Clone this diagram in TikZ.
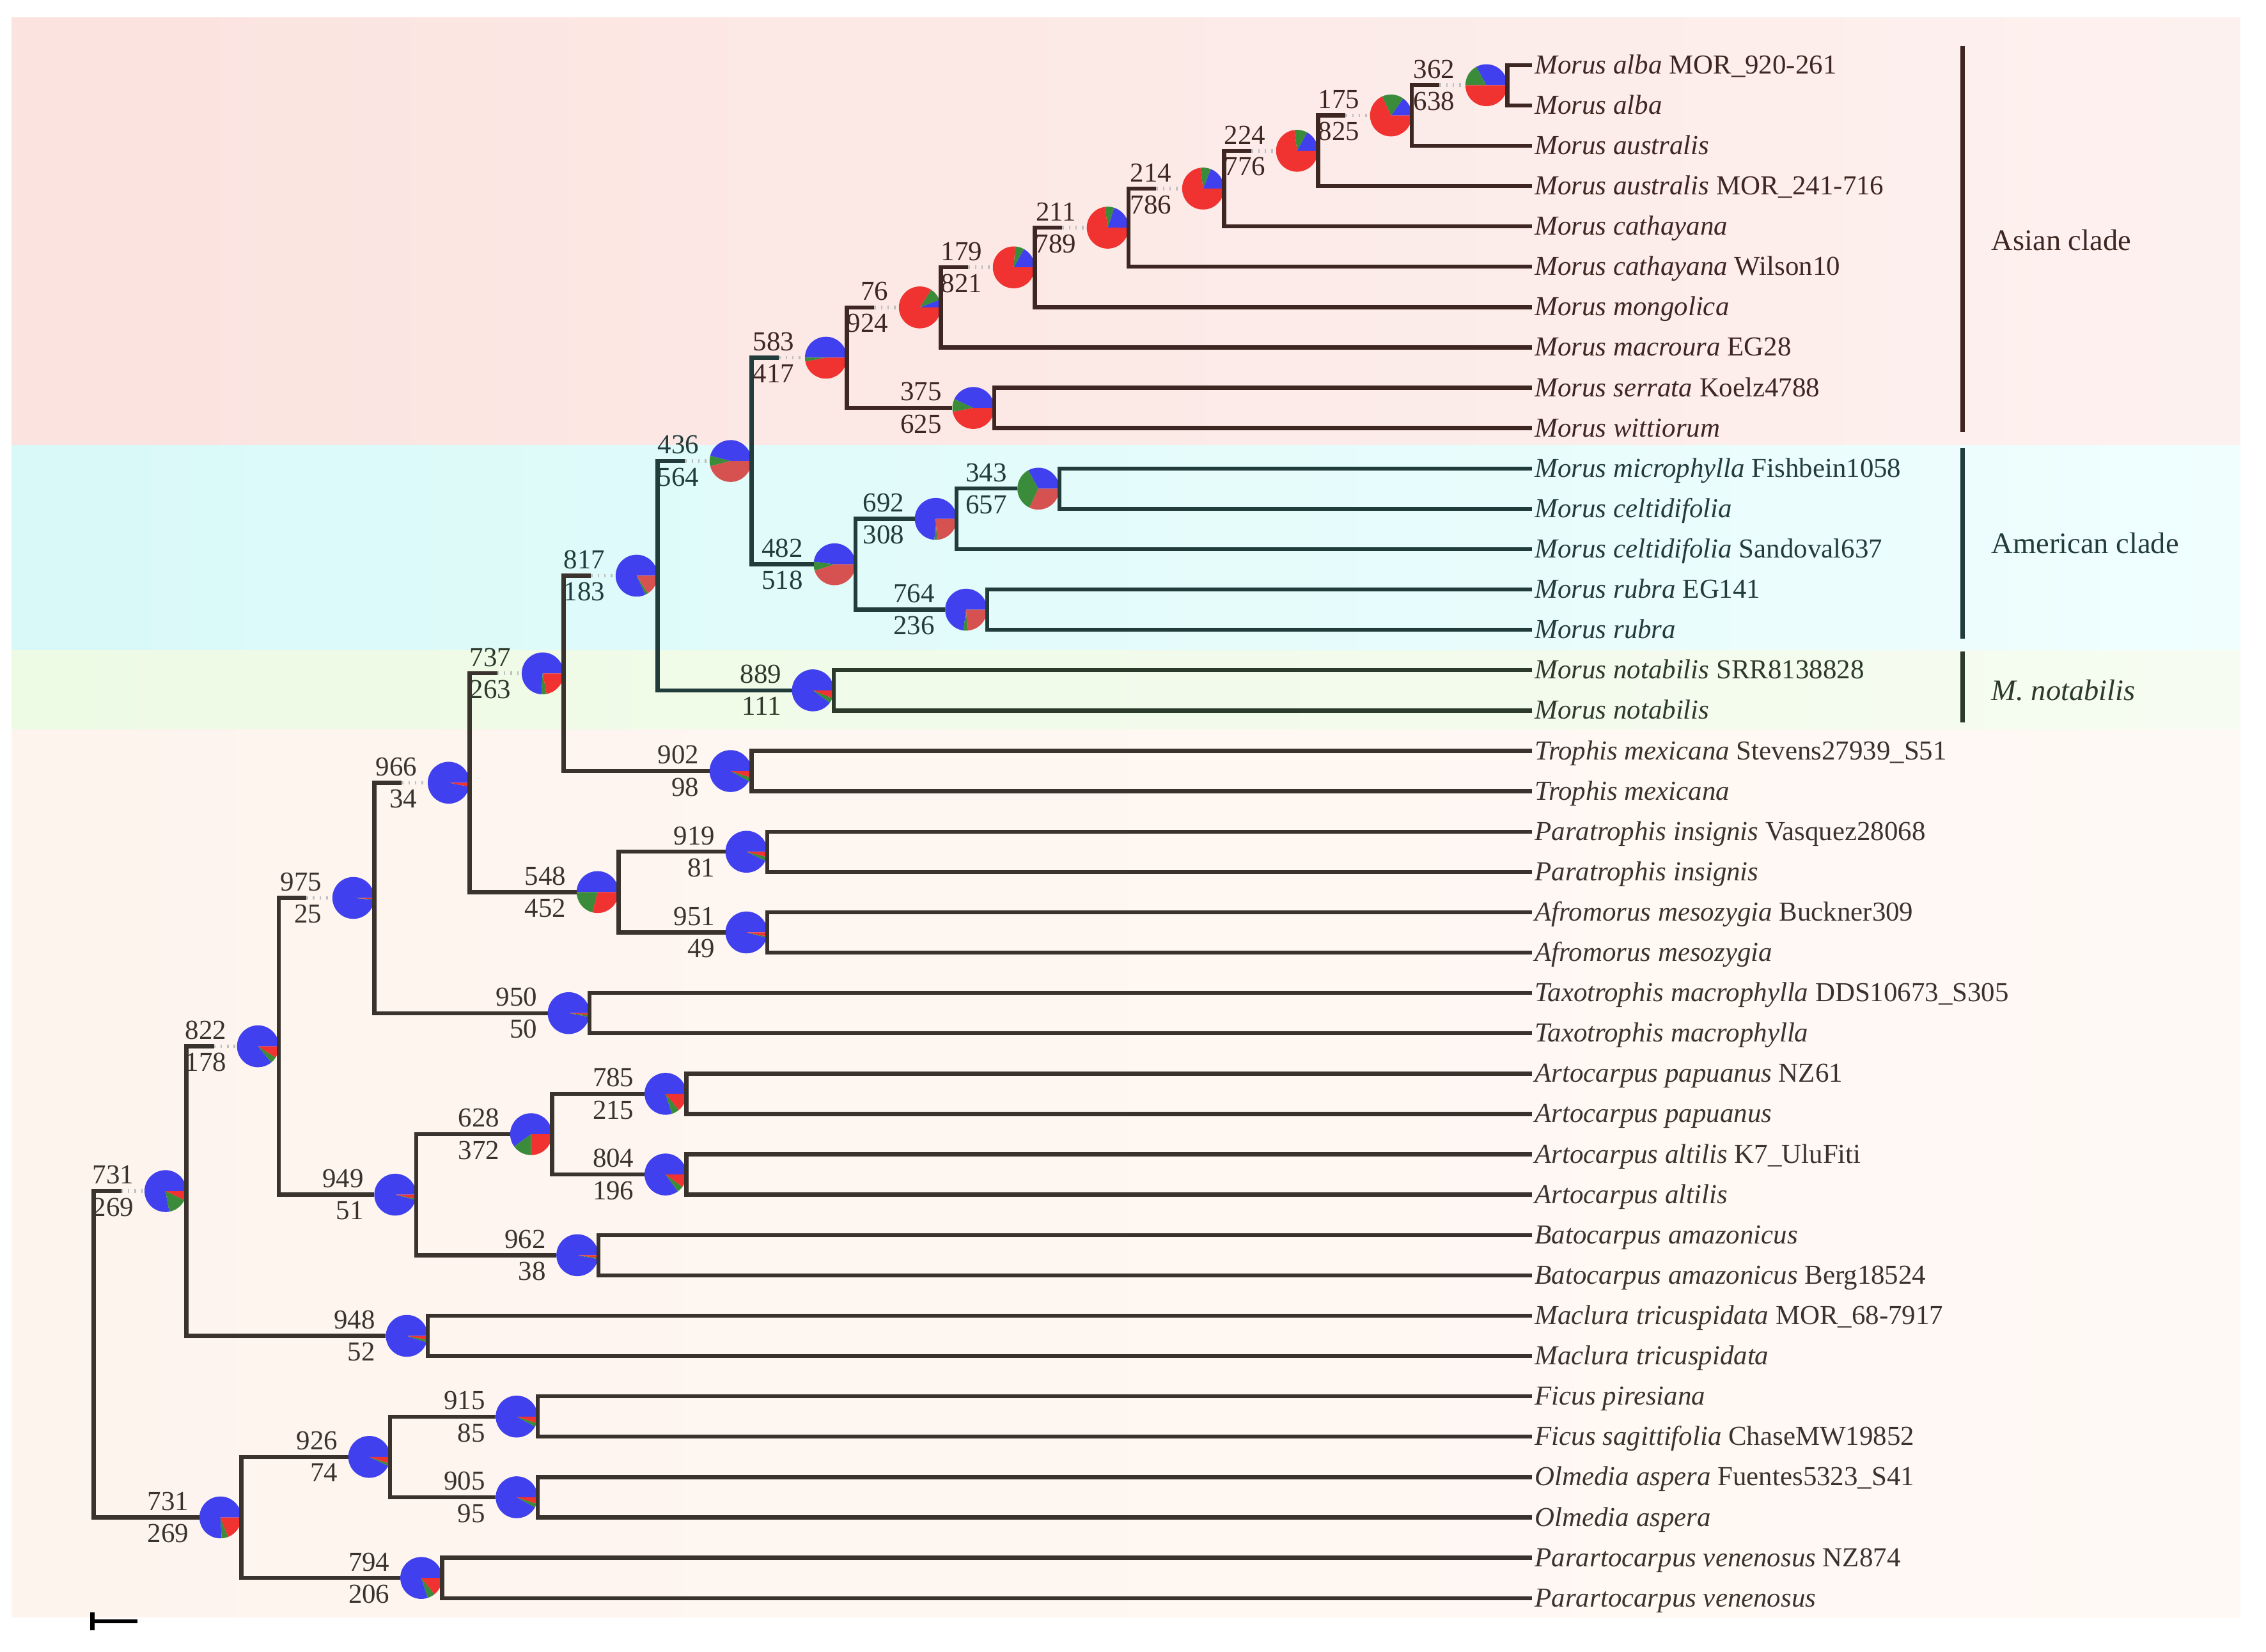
\documentclass[tikz,border=0pt]{standalone}
\usepackage{fontspec}
\setmainfont{Liberation Serif}
\usetikzlibrary{positioning}

\definecolor{pblue}{RGB}{64,64,238}
\definecolor{pgreen}{RGB}{58,140,58}
\definecolor{pred}{RGB}{240,50,48}
\definecolor{pmred}{RGB}{214,82,80}
\colorlet{rAsia}{pred}
\colorlet{rAmer}{pmred}
\colorlet{rNot}{pred}
\colorlet{rRest}{pred}
\definecolor{cAsia}{RGB}{62,38,34}
\definecolor{cAmer}{RGB}{34,60,60}
\definecolor{cNot}{RGB}{44,58,44}
\definecolor{cRest}{RGB}{58,50,45}
% background bands
\definecolor{bAsia}{RGB}{248,207,201}
\definecolor{bAsiaL}{RGB}{251,227,223}
\definecolor{bAsiaR}{RGB}{253,241,239}
\definecolor{bAmer}{RGB}{206,250,250}
\definecolor{bAmerL}{RGB}{216,249,248}
\definecolor{bAmerR}{RGB}{240,254,254}
\definecolor{bNot}{RGB}{229,248,217}
\definecolor{bNotL}{RGB}{237,250,228}
\definecolor{bNotR}{RGB}{246,252,241}
\definecolor{bRest}{RGB}{252,236,226}
\definecolor{bRestL}{RGB}{254,244,238}
\definecolor{bRestR}{RGB}{255,249,245}

\newcommand{\pieR}{2.9mm}
% pie at a node: [region]{name}{position}{blue}{green}{upper}{lower}
\newcommand{\pienode}[7][Rest]{%
  \node[pie] (#2) at (#3) {};
  \fill[pblue] (#2.center) -- ++(0:\pieR) arc[start angle=0, delta angle={360*#4}, radius=\pieR] -- cycle;
  \fill[pgreen] (#2.center) -- ++({360*#4}:\pieR) arc[start angle={360*#4}, delta angle={360*#5}, radius=\pieR] -- cycle;
  \fill[r#1] (#2.center) -- ++({360*(#4+#5)}:\pieR) arc[start angle={360*(#4+#5)}, end angle=360, radius=\pieR] -- cycle;
  \node[num, text=c#1, above left=1.5pt and 3pt of #2.west] (#2-u) {#6};
  \node[num, text=c#1, below left=1.5pt and 3pt of #2.west] (#2-d) {#7};
}
% short branch: solid stub, then grey dots up to the pie
\newcommand{\stubbranch}[4]{%
  \draw[br, #1] (#4) -| (#2.east |- #3) -- ++(19,0);
  \draw[dotbr] (#2.east |- #3) ++(19,0) -- (#3);
}

\begin{document}
\begin{tikzpicture}[x=0.2mm, y=0.2mm,
  br/.style={line width=1.6pt},
  dotbr/.style={gray!50, line width=1.4pt, dash pattern=on 0.6pt off 2pt},
  pie/.style={circle, minimum size=5.8mm, inner sep=0pt, outer sep=0pt},
  leaf/.style={anchor=west, inner sep=1pt, text height=6.8pt, text depth=0pt, font=\fontsize{10.8}{12}\selectfont},
  num/.style={inner sep=1pt, font=\fontsize{10.8}{12}\selectfont},
  clade/.style={anchor=west, inner sep=1pt, font=\fontsize{11.7}{13}\selectfont},
  cladebar/.style={line width=1.8pt}]
\useasboundingbox (0,0) rectangle (1568,-1143);

% bands
\shade[left color=white, middle color=cyan!10, right color=white] (40,-9) rectangle (1520,-12);
\shade[left color=bAsiaL, middle color=bAsia, right color=bAsiaR] (8,-12) rectangle (1550,-308);
\shade[left color=bAmerL, middle color=bAmer, right color=bAmerR] (8,-308) rectangle (1550,-450);
\shade[left color=bNotL, middle color=bNot, right color=bNotR] (8,-450) rectangle (1550,-505);
\shade[left color=bRestL, middle color=bRest, right color=bRestR] (8,-505) rectangle (1550,-1119);

% taxa
\node[leaf, text=cAsia] (alba1) at (1060,-45) {\textit{Morus alba} MOR\_920-261};
\node[leaf, text=cAsia] (alba2) at (1060,-72.92) {\textit{Morus alba}};
\node[leaf, text=cAsia] (austr1) at (1060,-100.84) {\textit{Morus australis}};
\node[leaf, text=cAsia] (austr2) at (1060,-128.76) {\textit{Morus australis} MOR\_241-716};
\node[leaf, text=cAsia] (cath1) at (1060,-156.68) {\textit{Morus cathayana}};
\node[leaf, text=cAsia] (cath2) at (1060,-184.6) {\textit{Morus cathayana} Wilson10};
\node[leaf, text=cAsia] (mong) at (1060,-212.52) {\textit{Morus mongolica}};
\node[leaf, text=cAsia] (macr) at (1060,-240.44) {\textit{Morus macroura} EG28};
\node[leaf, text=cAsia] (serr) at (1060,-268.36) {\textit{Morus serrata} Koelz4788};
\node[leaf, text=cAsia] (witt) at (1060,-296.28) {\textit{Morus wittiorum}};
\node[leaf, text=cAmer] (micro) at (1060,-324.2) {\textit{Morus microphylla} Fishbein1058};
\node[leaf, text=cAmer] (celt1) at (1060,-352.12) {\textit{Morus celtidifolia}};
\node[leaf, text=cAmer] (celt2) at (1060,-380.04) {\textit{Morus celtidifolia} Sandoval637};
\node[leaf, text=cAmer] (rubra1) at (1060,-407.96) {\textit{Morus rubra} EG141};
\node[leaf, text=cAmer] (rubra2) at (1060,-435.88) {\textit{Morus rubra}};
\node[leaf, text=cNot] (nota1) at (1060,-463.8) {\textit{Morus notabilis} SRR8138828};
\node[leaf, text=cNot] (nota2) at (1060,-491.72) {\textit{Morus notabilis}};
\node[leaf, text=cRest] (troph1) at (1060,-519.64) {\textit{Trophis mexicana} Stevens27939\_S51};
\node[leaf, text=cRest] (troph2) at (1060,-547.56) {\textit{Trophis mexicana}};
\node[leaf, text=cRest] (parat1) at (1060,-575.48) {\textit{Paratrophis insignis} Vasquez28068};
\node[leaf, text=cRest] (parat2) at (1060,-603.4) {\textit{Paratrophis insignis}};
\node[leaf, text=cRest] (afro1) at (1060,-631.32) {\textit{Afromorus mesozygia} Buckner309};
\node[leaf, text=cRest] (afro2) at (1060,-659.24) {\textit{Afromorus mesozygia}};
\node[leaf, text=cRest] (taxo1) at (1060,-687.16) {\textit{Taxotrophis macrophylla} DDS10673\_S305};
\node[leaf, text=cRest] (taxo2) at (1060,-715.08) {\textit{Taxotrophis macrophylla}};
\node[leaf, text=cRest] (papu1) at (1060,-743) {\textit{Artocarpus papuanus} NZ61};
\node[leaf, text=cRest] (papu2) at (1060,-770.92) {\textit{Artocarpus papuanus}};
\node[leaf, text=cRest] (altil1) at (1060,-798.84) {\textit{Artocarpus altilis} K7\_UluFiti};
\node[leaf, text=cRest] (altil2) at (1060,-826.76) {\textit{Artocarpus altilis}};
\node[leaf, text=cRest] (bato1) at (1060,-854.68) {\textit{Batocarpus amazonicus}};
\node[leaf, text=cRest] (bato2) at (1060,-882.6) {\textit{Batocarpus amazonicus} Berg18524};
\node[leaf, text=cRest] (maclu1) at (1060,-910.52) {\textit{Maclura tricuspidata} MOR\_68-7917};
\node[leaf, text=cRest] (maclu2) at (1060,-938.44) {\textit{Maclura tricuspidata}};
\node[leaf, text=cRest] (fpir) at (1060,-966.36) {\textit{Ficus piresiana}};
\node[leaf, text=cRest] (fsag) at (1060,-994.28) {\textit{Ficus sagittifolia} ChaseMW19852};
\node[leaf, text=cRest] (olme1) at (1060,-1022.2) {\textit{Olmedia aspera} Fuentes5323\_S41};
\node[leaf, text=cRest] (olme2) at (1060,-1050.12) {\textit{Olmedia aspera}};
\node[leaf, text=cRest] (parar1) at (1060,-1078.04) {\textit{Parartocarpus venenosus} NZ874};
\node[leaf, text=cRest] (parar2) at (1060,-1105.96) {\textit{Parartocarpus venenosus}};

% pies and support values
\pienode[Asia]{pAlba}{1028.5,-58.96}{.33}{.17}{362}{638}
\pienode[Asia]{pAus}{962.5,-79.9}{.15}{.17}{175}{825}
\pienode[Asia]{pAusB}{897.5,-104.33}{.17}{.10}{224}{776}
\pienode[Asia]{pCat}{832.5,-130.5}{.19}{.08}{214}{786}
\pienode[Asia]{pCatB}{766.5,-157.55}{.20}{.07}{211}{789}
\pienode[Asia]{pMon}{701.5,-185.04}{.17}{.07}{179}{821}
\pienode[Asia]{pMac}{636.5,-212.74}{.06}{.10}{76}{924}
\pienode[Asia]{pSer}{673.5,-282.32}{.43}{.10}{375}{625}
\pienode[Asia]{pAsia}{571.5,-247.53}{.50}{.03}{583}{417}
\pienode[Amer]{pMic}{718.5,-338.16}{.33}{.35}{343}{657}
\pienode[Amer]{pCel}{647.5,-359.1}{.74}{.02}{692}{308}
\pienode[Amer]{pRub}{668.5,-421.92}{.73}{.03}{764}{236}
\pienode[Amer]{pAmer}{577.5,-390.51}{.48}{.07}{482}{518}
\pienode[Amer]{pAsAm}{505.5,-319.02}{.46}{.08}{436}{564}
\pienode[Not]{pNot}{562.5,-477.76}{.90}{.04}{889}{111}
\pienode[Amer]{pMorus}{440.5,-398.39}{.82}{.02}{817}{183}
\pienode{pTro}{505.5,-533.6}{.92}{.03}{902}{98}
\pienode[Not]{pSeven}{375.5,-466}{.74}{.04}{737}{263}
\pienode{pPar}{516.5,-589.44}{.93}{.03}{919}{81}
\pienode{pAfr}{516.5,-645.28}{.96}{.01}{951}{49}
\pienode{pPaAf}{413.5,-617.36}{.50}{.21}{548}{452}
\pienode{pNine}{310.5,-541.68}{.97}{0}{966}{34}
\pienode{pTax}{393.5,-701.12}{.97}{.015}{950}{50}
\pienode{pTaxo}{244.5,-621.4}{.985}{.005}{975}{25}
\pienode{pPap}{460.5,-756.96}{.80}{.06}{785}{215}
\pienode{pAlt}{460.5,-812.8}{.85}{.05}{804}{196}
\pienode{pArto}{367.5,-784.88}{.60}{.15}{628}{372}
\pienode{pBat}{399.5,-868.64}{.97}{.01}{962}{38}
\pienode{pArBa}{273.5,-826.76}{.96}{.01}{949}{51}
\pienode{pCore}{178.5,-724.08}{.86}{.05}{822}{178}
\pienode{pMacl}{281.5,-924.48}{.95}{.02}{948}{52}
\pienode{pUpper}{114.5,-824.28}{.78}{.15}{731}{269}
\pienode{pFic}{357.5,-980.32}{.92}{.03}{915}{85}
\pienode{pOlm}{357.5,-1036.16}{.92}{.03}{905}{95}
\pienode{pFiOl}{255.5,-1008.24}{.93}{.02}{926}{74}
\pienode{pParv}{291.5,-1092}{.80}{.06}{794}{206}
\pienode{pLower}{152.5,-1050.12}{.76}{.05}{731}{269}
\node[inner sep=0pt, outer sep=0pt] (root) at (64,-937.2) {};

% Asian clade
\draw[br, cAsia] (alba1.west) -| (pAlba.east) |- (alba2.west);
\stubbranch{cAsia}{pAus}{pAlba.west}{austr1.west}
\stubbranch{cAsia}{pAusB}{pAus.west}{austr2.west}
\stubbranch{cAsia}{pCat}{pAusB.west}{cath1.west}
\stubbranch{cAsia}{pCatB}{pCat.west}{cath2.west}
\stubbranch{cAsia}{pMon}{pCatB.west}{mong.west}
\stubbranch{cAsia}{pMac}{pMon.west}{macr.west}
\draw[br, cAsia] (serr.west) -| (pSer.east) |- (witt.west);
\stubbranch{cAsia}{pAsia}{pMac.west}{pSer.west}
% American clade and M. notabilis
\draw[br, cAmer] (micro.west) -| (pMic.east) |- (celt1.west);
\draw[br, cAmer] (pMic.west) -| (pCel.east) |- (celt2.west);
\draw[br, cAmer] (rubra1.west) -| (pRub.east) |- (rubra2.west);
\draw[br, cAmer] (pCel.west) -| (pAmer.east) |- (pRub.west);
\stubbranch{cAmer}{pAsAm}{pAsia.west}{pAmer.west}
\draw[br, cNot] (nota1.west) -| (pNot.east) |- (nota2.west);
\stubbranch{cAmer}{pMorus}{pAsAm.west}{pNot.west}
% the rest
\draw[br, cRest] (troph1.west) -| (pTro.east) |- (troph2.west);
\stubbranch{cRest}{pSeven}{pMorus.west}{pTro.west}
\draw[br, cRest] (parat1.west) -| (pPar.east) |- (parat2.west);
\draw[br, cRest] (afro1.west) -| (pAfr.east) |- (afro2.west);
\draw[br, cRest] (pPar.west) -| (pPaAf.east) |- (pAfr.west);
\stubbranch{cRest}{pNine}{pSeven.west}{pPaAf.west}
\draw[br, cRest] (taxo1.west) -| (pTax.east) |- (taxo2.west);
\stubbranch{cRest}{pTaxo}{pNine.west}{pTax.west}
\draw[br, cRest] (papu1.west) -| (pPap.east) |- (papu2.west);
\draw[br, cRest] (altil1.west) -| (pAlt.east) |- (altil2.west);
\draw[br, cRest] (pPap.west) -| (pArto.east) |- (pAlt.west);
\draw[br, cRest] (bato1.west) -| (pBat.east) |- (bato2.west);
\draw[br, cRest] (pArto.west) -| (pArBa.east) |- (pBat.west);
\stubbranch{cRest}{pCore}{pTaxo.west}{pArBa.west}
\draw[br, cRest] (maclu1.west) -| (pMacl.east) |- (maclu2.west);
\stubbranch{cRest}{pUpper}{pCore.west}{pMacl.west}
\draw[br, cRest] (fpir.west) -| (pFic.east) |- (fsag.west);
\draw[br, cRest] (olme1.west) -| (pOlm.east) |- (olme2.west);
\draw[br, cRest] (pFic.west) -| (pFiOl.east) |- (pOlm.west);
\draw[br, cRest] (parar1.west) -| (pParv.east) |- (parar2.west);
\draw[br, cRest] (pFiOl.west) -| (pLower.east) |- (pParv.west);
\stubbranch{cRest}{root}{pUpper.west}{pLower.west}

% clades
\draw[cladebar, cAsia] (1358,-32) -- (1358,-299);
\draw[cladebar, cAmer] (1358,-310) -- (1358,-442);
\draw[cladebar, cNot] (1358,-451) -- (1358,-500);
\node[clade, text=cAsia] (asian) at (1376,-166) {Asian clade};
\node[clade, text=cAmer] (american) at (1376,-376) {American clade};
\node[clade, text=cNot] (notab) at (1376,-477.5) {\textit{M. notabilis}};

% scale bar
\draw[br] (64,-1116) -- (64,-1128);
\draw[br] (64,-1122) -- (95,-1122);
\end{tikzpicture}
\end{document}
